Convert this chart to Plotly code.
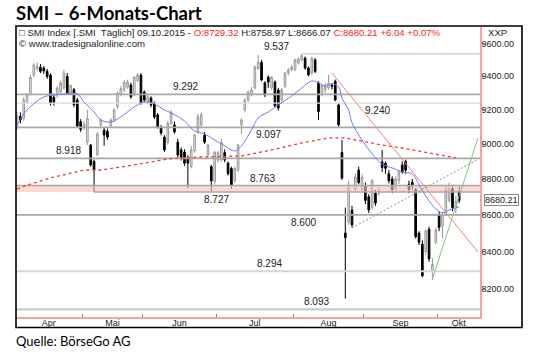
import math
import plotly.graph_objects as go

# ---------------- data (trading-day index 0 = 1 Apr 2015 ... 132 = 9 Oct 2015) -------------
month_names = ["Apr", "Mai", "Jun", "Jul", "Aug", "Sep", "Okt"]
month_days = [20, 18, 22, 23, 21, 22, 7]

opens = [9105, 9160, 9150, 9250, 9298, 9408, 9445, 9455, 9450, 9430,
         9408, 9275, 9288, 9305, 9330, 9400, 9300, 9320, 9258, 9130,
         9100, 9010, 8994, 8900, 8937, 9111, 9081, 9075, 9105, 9140,
         9217, 9290, 9318, 9335, 9348, 9288, 9375, 9408, 9305, 9245,
         9270, 9240, 9170, 9093, 9040, 9011, 9120, 9111, 9011, 8966,
         8954, 8920, 8870, 8960, 9070, 9111, 9052, 8937, 8870, 8785,
         8908, 8908, 8951, 8890, 8860, 8790, 8851, 9111, 9199, 9258,
         9288, 9330, 9445, 9485, 9360, 9395, 9330, 9365, 9318, 9258,
         9340, 9420, 9440, 9440, 9480, 9500, 9510, 9450, 9420, 9500,
         9360, 9300, 9320, 9330, 9345, 9370, 9229, 8951, 8500, 8560,
         8627, 8740, 8851, 8740, 8760, 8700, 8640, 8720, 8720, 8897,
         8890, 8830, 8800, 8740, 8790, 8880, 8900, 8770, 8780, 8740,
         8500, 8440, 8400, 8520, 8300, 8450, 8600, 8540, 8600, 8680,
         8745, 8640, 8729.32]
highs = [9188, 9185, 9275, 9300, 9410, 9480, 9485, 9475, 9462, 9445,
         9418, 9290, 9340, 9375, 9440, 9420, 9350, 9330, 9270, 9145,
         9135, 9200, 9000, 8910, 9070, 9150, 9095, 9090, 9150, 9210,
         9310, 9340, 9375, 9380, 9360, 9400, 9420, 9420, 9315, 9290,
         9280, 9250, 9180, 9110, 9052, 9135, 9200, 9130, 9030, 8980,
         8970, 8935, 8990, 9060, 9175, 9185, 9070, 9000, 8880, 8960,
         8960, 9030, 8970, 8900, 8870, 8870, 9000, 9150, 9270, 9315,
         9335, 9465, 9529, 9500, 9370, 9405, 9400, 9375, 9330, 9330,
         9425, 9450, 9470, 9505, 9515, 9537, 9520, 9460, 9520, 9510,
         9370, 9350, 9360, 9408, 9360, 9380, 9240, 9023, 8640, 8790,
         8650, 8830, 8870, 8830, 8780, 8715, 8800, 8740, 8755, 8966,
         8900, 8850, 8815, 8815, 8850, 8900, 8910, 8790, 8800, 8750,
         8510, 8460, 8520, 8535, 8365, 8530, 8620, 8615, 8760, 8780,
         8760, 8705, 8758.97]
lows = [9081, 9120, 9135, 9240, 9285, 9395, 9430, 9420, 9415, 9385,
        9225, 9225, 9270, 9295, 9320, 9290, 9290, 9215, 9095, 9070,
        9080, 8995, 8870, 8727, 8930, 9090, 8990, 9025, 9095, 9130,
        9205, 9280, 9305, 9325, 9265, 9280, 9365, 9230, 9245, 9235,
        9215, 9145, 9090, 9050, 8955, 8995, 9110, 9060, 8925, 8905,
        8875, 8750, 8860, 8950, 9060, 9100, 9000, 8930, 8730, 8770,
        8895, 8900, 8895, 8820, 8745, 8780, 8840, 9058, 9185, 9245,
        9280, 9320, 9440, 9370, 9275, 9330, 9320, 9215, 9195, 9240,
        9330, 9405, 9430, 9430, 9470, 9490, 9440, 9400, 9410, 9420,
        9140, 9280, 9300, 9320, 9320, 9250, 9100, 8795, 8150, 8545,
        8530, 8730, 8770, 8720, 8660, 8610, 8630, 8650, 8705, 8840,
        8830, 8775, 8720, 8725, 8770, 8830, 8830, 8720, 8740, 8470,
        8435, 8262, 8380, 8345, 8248, 8440, 8510, 8470, 8595, 8670,
        8620, 8610, 8666.07]
closes = [9164, 9140, 9258, 9290, 9393, 9468, 9462, 9430, 9432, 9398,
          9240, 9245, 9330, 9360, 9420, 9300, 9345, 9230, 9105, 9085,
          9115, 9150, 8880, 8851, 9058, 9140, 9052, 9040, 9140, 9199,
          9300, 9325, 9365, 9365, 9276, 9395, 9408, 9240, 9258, 9276,
          9229, 9158, 9100, 9064, 8966, 9122, 9182, 9070, 8937, 8920,
          8890, 8890, 8966, 9052, 9158, 9170, 9011, 8994, 8790, 8951,
          8951, 9011, 8908, 8830, 8767, 8860, 8994, 9140, 9258, 9305,
          9318, 9455, 9485, 9378, 9288, 9365, 9395, 9223, 9210, 9318,
          9420, 9438, 9455, 9500, 9505, 9525, 9450, 9408, 9510, 9430,
          9190, 9345, 9340, 9360, 9340, 9258, 9111, 8806, 8475, 8755,
          8545, 8812, 8780, 8810, 8680, 8627, 8790, 8665, 8740, 8865,
          8860, 8790, 8740, 8800, 8840, 8840, 8851, 8740, 8760, 8480,
          8450, 8270, 8510, 8360, 8330, 8517, 8530, 8600, 8740, 8745,
          8640, 8674.17, 8680.21]

# horizontal support / resistance levels
levels = [9537, 9292, 9240, 9097, 8918, 8763, 8727, 8600, 8294, 8093]
level_labels = ["9.537", "9.292", "9.240", "9.097", "8.918", "8.763",
                "8.727", "8.600", "8.294", "8.093"]

# fast moving average (blue)
ma_fast_idx = [0, 2, 5, 8, 11, 15, 18, 20, 23, 25, 28, 31, 35, 38, 41, 44, 46,
               50, 53, 56, 59, 62, 65, 67, 70, 72, 75, 78, 82, 85, 88, 90, 92,
               94, 96, 97, 99, 100, 103, 106, 109, 112, 115, 118, 120, 122,
               125, 127, 129, 132]
ma_fast_val = [9111, 9176, 9235, 9276, 9288, 9294, 9294, 9246, 9187, 9140,
               9128, 9158, 9217, 9246, 9235, 9199, 9182, 9134, 9075, 9058,
               9023, 8989, 8960, 8989, 9081, 9152, 9187, 9229, 9282, 9330,
               9372, 9360, 9342, 9354, 9336, 9270, 9199, 9123, 9023, 8943,
               8885, 8863, 8840, 8829, 8767, 8705, 8633, 8611, 8627, 8644]

# slow moving average (red dashed)
ma_slow_idx = [0, 5, 10, 15, 20, 25, 35, 45, 55, 67, 76, 85, 93, 98, 104,
               109, 115, 121, 127, 131]
ma_slow_val = [8744, 8778, 8806, 8829, 8851, 8851, 8880, 8914, 8926, 8931,
               8966, 9006, 9035, 9035, 9011, 8994, 8977, 8954, 8931, 8920]

# trend lines (start / end)
trend_red_idx = [94.0, 137.6]
trend_red_val = [9420, 8397]
trend_gdot_idx = [100.0, 137.6]
trend_gdot_val = [8528, 8913]
trend_gsol_idx = [123.9, 137.6]
trend_gsol_val = [8248, 9035]

y_ticks = [8200, 8400, 8600, 8800, 9000, 9200, 9400, 9600]
last_price = 8680.21

# ---------------- layout helpers -------------
W, H = 536, 355
L, R, T, B = 16, 480, 27, 317            # plot area in pixels
X0 = -0.3
X1 = X0 + (R - L) / 3.35
Y_TOP = math.log10(9600) + (43.5 - T) / 3586.3
Y_BOT = math.log10(9600) - (B - 43.5) / 3586.3

def px_x(p):
    return (p - L) / (R - L)

def px_y(p):
    return (B - p) / (B - T)

# month boundaries and label positions
bounds = []
start = 0
label_pos = []
for n in month_days:
    label_pos.append(start + n / 2 - 0.5)
    start += n
    bounds.append(start - 0.5)
month_bounds = bounds[:-1]
label_pos[-1] = (month_bounds[-1] + X1) / 2

idx = list(range(len(closes)))
FONT = "Liberation Sans, Arial, sans-serif"

fig = go.Figure()

# pink band between 8727 and 8763
fig.add_trace(go.Scatter(x=[X0, X1, X1, X0, X0], y=[8727, 8727, 8763, 8763, 8727],
                         fill="toself", fillcolor="rgba(250,190,180,0.6)",
                         line=dict(width=0), mode="lines", hoverinfo="skip",
                         showlegend=False))

line_styles = {
    9537: ("#d4d4d4", 1.5, 85),
    9292: ("#a8a8a8", 1.8, X0),
    9240: ("#dcdcdc", 1.2, X0),
    9097: ("#a8a8a8", 1.8, X0),
    8918: ("#a8a8a8", 1.8, X0),
    8763: ("#a8a8a8", 1.5, X0),
    8727: ("#a8a8a8", 1.5, 23),
    8600: ("#a8a8a8", 1.8, X0),
    8294: ("#cfdccf", 2.2, X0),
    8093: ("#c2d2c2", 2.2, X0),
}
for lv in levels:
    col, wd, xs = line_styles[lv]
    fig.add_trace(go.Scatter(x=[xs, X1], y=[lv, lv], mode="lines",
                             line=dict(color=col, width=wd), hoverinfo="skip",
                             showlegend=False))

# moving averages
fig.add_trace(go.Scatter(x=ma_slow_idx, y=ma_slow_val, mode="lines",
                         line=dict(color="#f03c3c", width=1.3, dash="3px,3px"),
                         hoverinfo="skip", showlegend=False))
fig.add_trace(go.Scatter(x=ma_fast_idx, y=ma_fast_val, mode="lines",
                         line=dict(color="#6d7cf2", width=1, shape="spline"),
                         hoverinfo="skip", showlegend=False))

# candles
fig.add_trace(go.Candlestick(x=idx, open=opens, high=highs, low=lows, close=closes,
                             increasing=dict(line=dict(color="#9a9a9a", width=1),
                                             fillcolor="#e6e6e6"),
                             decreasing=dict(line=dict(color="#000000", width=1),
                                             fillcolor="#000000"),
                             whiskerwidth=0, showlegend=False, hoverinfo="skip"))

# trend lines
fig.add_trace(go.Scatter(x=trend_red_idx, y=trend_red_val, mode="lines",
                         line=dict(color="#f08080", width=1), hoverinfo="skip",
                         showlegend=False))
fig.add_trace(go.Scatter(x=trend_gdot_idx, y=trend_gdot_val, mode="lines",
                         line=dict(color="#5cb85c", width=1, dash="2px,2px"),
                         hoverinfo="skip", showlegend=False))
fig.add_trace(go.Scatter(x=trend_gsol_idx, y=trend_gsol_val, mode="lines",
                         line=dict(color="#7cc87c", width=1), hoverinfo="skip",
                         showlegend=False))

# level labels: (x index, above?)
label_place = {
    9537: (77.6, True), 9292: (50.4, True), 9240: (107.5, False),
    9097: (75.2, False), 8918: (15.5, True), 8763: (73.4, True),
    8727: (59.4, False), 8600: (85.4, False), 8294: (75.5, True),
    8093: (89.3, True),
}
annotations = []
for lv, txt in zip(levels, level_labels):
    xi, above = label_place[lv]
    annotations.append(dict(x=xi, y=math.log10(lv), xref="x", yref="y",
                            text=txt, showarrow=False,
                            yanchor="bottom" if above else "top",
                            font=dict(family=FONT, size=10, color="#222"),
                            borderpad=0, yshift=1 if above else -1))

# header texts
hdr = ("□ SMI Index [.SMI  Täglich] 09.10.2015 - "
       "<span style='color:#ff2020'>O:8729.32</span> H:8758.97 L:8666.07 "
       "<span style='color:#ff2020'>C:8680.21 +6.04 +0.07%</span>")
annotations.append(dict(x=px_x(17), y=px_y(32.5), xref="paper", yref="paper",
                        text=hdr, showarrow=False, xanchor="left", yanchor="middle",
                        font=dict(family=FONT, size=9.6, color="#222")))
annotations.append(dict(x=px_x(17), y=px_y(43.5), xref="paper", yref="paper",
                        text="© www.tradesignalonline.com", showarrow=False,
                        xanchor="left", yanchor="middle",
                        font=dict(family=FONT, size=9.6, color="#222")))
annotations.append(dict(x=px_x(486), y=px_y(32.5), xref="paper", yref="paper",
                        text="XXP", showarrow=False, xanchor="left", yanchor="middle",
                        font=dict(family=FONT, size=9.6, color="#222")))
annotations.append(dict(x=px_x(14), y=px_y(13), xref="paper", yref="paper",
                        text="<b>SMI – 6-Monats-Chart</b>", showarrow=False,
                        xanchor="left", yanchor="middle",
                        font=dict(family="Lato, Liberation Sans, sans-serif",
                                  size=18.5, color="#000")))
annotations.append(dict(x=px_x(14), y=px_y(341), xref="paper", yref="paper",
                        text="Quelle: BörseGo AG", showarrow=False,
                        xanchor="left", yanchor="middle",
                        font=dict(family="Lato, Liberation Sans, sans-serif",
                                  size=13, color="#000")))
annotations.append(dict(x=px_x(484), y=math.log10(last_price), xref="paper", yref="y",
                        text="%.2f" % last_price, showarrow=False,
                        xanchor="left", yanchor="middle",
                        bgcolor="white", bordercolor="#888", borderwidth=1,
                        borderpad=0,
                        font=dict(family=FONT, size=9, color="#222")))

shapes = [
    dict(type="rect", xref="paper", yref="paper",
         x0=px_x(16), x1=px_x(522), y0=px_y(327.5), y1=px_y(26),
         line=dict(color="#000", width=1.6), fillcolor="rgba(0,0,0,0)"),
]

fig.update_layout(
    width=W, height=H,
    margin=dict(l=L, r=W - R, t=T, b=H - B, pad=0),
    paper_bgcolor="white", plot_bgcolor="white",
    showlegend=False,
    annotations=annotations, shapes=shapes,
    xaxis=dict(range=[X0, X1], showgrid=False, zeroline=False,
               tickmode="array", tickvals=label_pos, ticktext=month_names,
               ticks="", showline=True, linecolor="#f5a3a3", linewidth=1.5,
               ticklabelstandoff=-4,
               tickfont=dict(family=FONT, size=9, color="#222"),
               minor=dict(tickmode="array", tickvals=month_bounds, ticks="inside",
                          ticklen=3, tickcolor="#888", showgrid=False),
               rangeslider=dict(visible=False), fixedrange=True),
    yaxis=dict(type="log", range=[Y_BOT, Y_TOP], side="right", showgrid=False,
               zeroline=False, tickmode="array", tickvals=y_ticks,
               ticktext=["%.2f" % v for v in y_ticks], ticks="outside",
               ticklen=3, tickcolor="#999", showline=True, linecolor="#f5a3a3",
               linewidth=1.5, ticklabelstandoff=-5,
               tickfont=dict(family=FONT, size=9, color="#222"),
               fixedrange=True),
)

fig.write_html("out.html",
               config={"displayModeBar": False},
               post_script="document.body.style.margin='0';"
                           "document.body.style.padding='0';")
